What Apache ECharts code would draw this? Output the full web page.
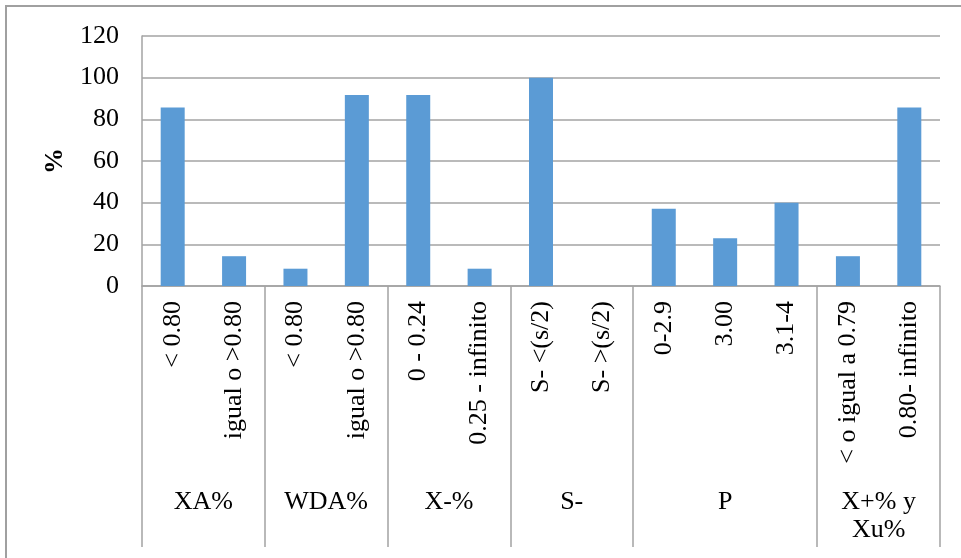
<!DOCTYPE html>
<html>
<head>
<meta charset="utf-8">
<script src="https://cdn.jsdelivr.net/npm/echarts@6/dist/echarts.min.js"></script>
<style>
  html, body { margin: 0; padding: 0; background: #fff; }
  #chart { width: 961px; height: 558px; }
</style>
</head>
<body>
<div id="chart"></div>
<script>
// Response categories, grouped by index
const groupNames = ['XA%', 'WDA%', 'X-%', 'S-', 'P', 'X+% y\nXu%'];
const groupSizes = [2, 2, 2, 2, 3, 2];
const categories = [
  '< 0.80', 'igual o >0.80',
  '< 0.80', 'igual o >0.80',
  '0 - 0.24', '0.25 - infinito',
  'S- <(s/2)', 'S- >(s/2)',
  '0-2.9', '3.00', '3.1-4',
  '< o igual a 0.79', '0.80- infinito'
];
// Percentage of cases in each category
const percentages = [85.7, 14.3, 8.3, 91.7, 91.7, 8.3, 100, 0, 37.1, 22.9, 40, 14.3, 85.7];
const yTicks = { min: 0, max: 120, step: 20 };

const FONT = "'Liberation Serif', 'Times New Roman', serif";
const GRID_COLOR = '#A3A3A3';

// Group boundaries (category indices where each group starts) and group centres
const groupStarts = [];
const groupCentres = {};
let acc = 0;
groupSizes.forEach(function (n, i) {
  groupStarts.push(acc);
  groupCentres[acc + n / 2] = groupNames[i];
  acc += n;
});

const chart = echarts.init(document.getElementById('chart'), null, { renderer: 'canvas' });

chart.setOption({
  animation: false,
  backgroundColor: '#fff',
  grid: { left: 142, right: 21, top: 36, bottom: 272, containLabel: false },
  graphic: [{
    type: 'rect',
    shape: { x: 6, y: 6, width: 1000, height: 600 },
    style: { fill: 'none', stroke: '#A0A0A0', lineWidth: 2 },
    silent: true
  }],
  xAxis: [{
    type: 'category',
    data: categories,
    position: 'bottom',
    axisLine: { show: true, lineStyle: { color: GRID_COLOR, width: 1.5 } },
    axisTick: {
      show: true,
      length: 261,
      interval: function (index) { return groupStarts.indexOf(index) !== -1; },
      lineStyle: { color: GRID_COLOR, width: 1.5 }
    },
    axisLabel: {
      interval: 0,
      rotate: 90,
      margin: 15,
      color: '#000',
      fontFamily: FONT,
      fontSize: 26
    }
  }, {
    type: 'value',
    min: 0,
    max: groupSizes.reduce(function (a, b) { return a + b; }, 0),
    interval: 0.5,
    position: 'bottom',
    gridIndex: 0,
    axisLine: { show: false },
    axisTick: { show: false },
    splitLine: { show: false },
    axisLabel: {
      show: true,
      margin: 202,
      color: '#000',
      fontFamily: FONT,
      fontSize: 26,
      lineHeight: 28,
      align: 'center',
      showMinLabel: false,
      showMaxLabel: false,
      formatter: function (v) { return groupCentres[v] || ''; }
    }
  }],
  yAxis: {
    type: 'value',
    min: yTicks.min,
    max: yTicks.max,
    interval: yTicks.step,
    name: '%',
    nameLocation: 'middle',
    nameRotate: 90,
    nameGap: 74,
    nameTextStyle: { fontFamily: FONT, fontSize: 26, fontWeight: 'bold', color: '#000' },
    axisLine: { show: true, lineStyle: { color: GRID_COLOR, width: 1.5 } },
    axisTick: { show: false },
    splitLine: { show: true, lineStyle: { color: GRID_COLOR, width: 1.5 } },
    axisLabel: { margin: 23, color: '#000', fontFamily: FONT, fontSize: 26 }
  },
  series: [{
    type: 'bar',
    xAxisIndex: 0,
    data: percentages,
    barWidth: 24,
    itemStyle: { color: '#5B9BD5' }
  }]
});
</script>
</body>
</html>
